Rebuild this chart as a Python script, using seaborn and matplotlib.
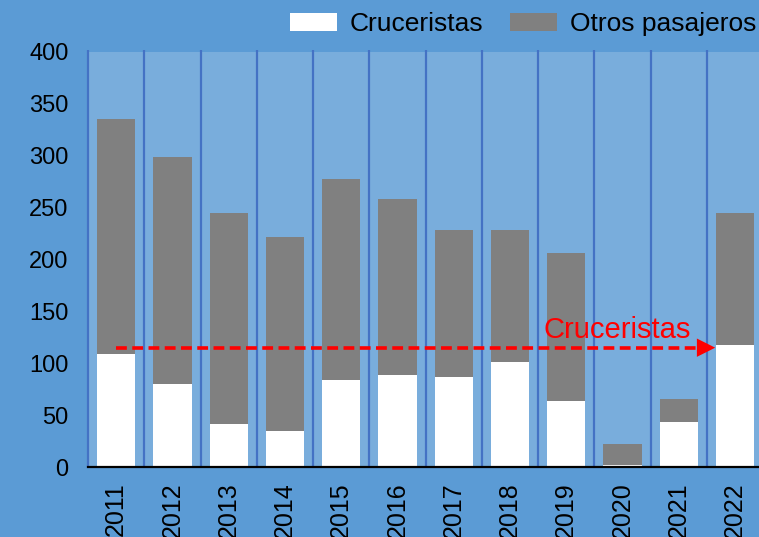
import matplotlib
matplotlib.use("Agg")
import matplotlib.pyplot as plt
from matplotlib.patches import Patch
import seaborn as sns

# data
years = ["2011", "2012", "2013", "2014", "2015", "2016",
         "2017", "2018", "2019", "2020", "2021", "2022"]
totales = [335, 299, 245, 222, 278, 258, 228, 228, 206, 22, 66, 245]
cruceristas = [109, 80, 41, 35, 84, 89, 87, 101, 64, 2, 43, 118]
flecha_y = 115
yticks = [0, 50, 100, 150, 200, 250, 300, 350, 400]

outer = "#5B9BD5"
inner = "#79ADDC"
sep = "#4472C4"
gris = "#808080"

sns.set_style("white")
plt.rcParams["font.family"] = ["Liberation Sans", "DejaVu Sans"]
plt.rcParams["text.color"] = "black"
plt.rcParams["xtick.color"] = "black"
plt.rcParams["ytick.color"] = "black"

fig = plt.figure(figsize=(7.59, 5.37), dpi=100, facecolor=outer)
ax = fig.add_axes([88/759, 1-467/537, 675/759, 415/537])
ax.set_facecolor(inner)

sns.barplot(x=years, y=totales, color=gris, saturation=1, width=0.68,
            linewidth=0, ax=ax, zorder=2)
sns.barplot(x=years, y=cruceristas, color="white", saturation=1, width=0.68,
            linewidth=0, ax=ax, zorder=3)

# category separators
ax.vlines([i - 0.5 for i in range(len(years) + 1)], 0, 402, colors=sep,
          linewidth=1.6, clip_on=False, zorder=1)

ax.set_ylim(0, 400)
ax.set_xlim(-0.5, len(years) - 0.5)
ax.set_yticks(yticks)
ax.set_yticklabels([str(v) for v in yticks])
ax.tick_params(axis="y", length=0, pad=14, labelsize=17, labelcolor="black")
ax.tick_params(axis="x", length=0, pad=11, labelsize=18, rotation=90,
               labelcolor="black")
ax.set_xlabel("")
ax.set_ylabel("")
for s in ["top", "right", "left"]:
    ax.spines[s].set_visible(False)
ax.spines["bottom"].set_color("black")
ax.spines["bottom"].set_linewidth(1.6)
ax.spines["bottom"].set_zorder(4)

# dashed arrow
ax.plot([0, 10.45], [flecha_y, flecha_y], linestyle=(0, (3, 1.5)), color="red",
        linewidth=2.6, zorder=5)
ax.annotate("", xy=(10.7, flecha_y), xytext=(10.4, flecha_y),
            arrowprops=dict(arrowstyle="-|>,head_length=0.6,head_width=0.3",
                            color="red", mutation_scale=22, linewidth=0),
            zorder=5)
ax.text(8.9, 132, "Cruceristas", color="red", fontsize=21, ha="center",
        va="center", zorder=5)

handles = [Patch(facecolor="white", edgecolor="none", label="Cruceristas"),
           Patch(facecolor=gris, edgecolor="none", label="Otros pasajeros")]
fig.legend(handles=handles, loc="center right", bbox_to_anchor=(1.0, 1-24/537),
           ncol=2, frameon=False, fontsize=19, handlelength=1.77,
           handleheight=0.7, handletextpad=0.5, columnspacing=1.0,
           borderaxespad=0, borderpad=0.1, labelcolor="black")

fig.savefig("out.png", dpi=100, facecolor=outer)
